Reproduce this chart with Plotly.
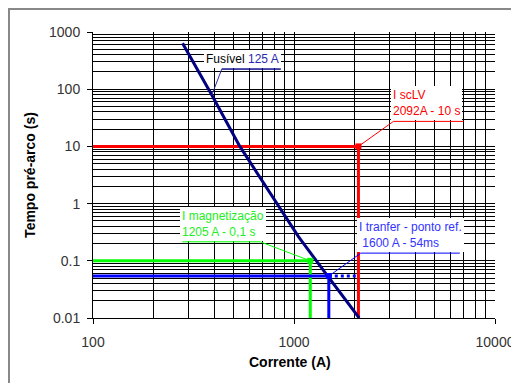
import math
import plotly.graph_objects as go

# ---------------- data ----------------
FUSE_I = [279, 390, 536, 746, 1052, 1484, 2110]          # A
FUSE_T = [634, 79, 10.2, 1.70, 0.264, 0.052, 0.0100]      # s

SC_I, SC_T = 2092, 10          # I scLV
MAG_I, MAG_T = 1205, 0.1       # I magnetização
TR_I, TR_T = 1490, 0.054       # I tranfer (ponto ref.)

X_MIN, X_MAX = 100, 10000
Y_MIN, Y_MAX = 0.01, 1000

X_TICKS = [100, 1000, 10000]
X_TICKTEXT = ["100", "1000", "10000"]
Y_TICKS = [0.01, 0.1, 1, 10, 100, 1000]
Y_TICKTEXT = ["0.01", "0.1", "1", "10", "100", "1000"]

LBL_FUSE = "Fusível"
LBL_FUSE_VAL = "125 A"
LBL_SC = ["I scLV", "2092A - 10 s"]
LBL_MAG = ["I magnetização", "1205 A - 0,1 s"]
LBL_TR = ["I tranfer - ponto ref.", " 1600 A - 54ms"]

X_TITLE = "Corrente (A)"
Y_TITLE = "Tempo pré-arco (s)"

# ---------------- styles ----------------
FONT = "Liberation Sans, Arial, sans-serif"
NAVY = "#000080"
RED = "#ff0000"
GREEN = "#00ff00"
BLUE = "#0000ff"


def minor_vals(lo, hi):
    vals = []
    d = math.floor(math.log10(lo))
    while 10 ** d < hi:
        for k in range(2, 10):
            v = k * 10 ** d
            if lo < v < hi:
                vals.append(v)
        d += 1
    return vals


fig = go.Figure()

# reference lines
fig.add_trace(go.Scatter(x=[X_MIN, SC_I, SC_I], y=[SC_T, SC_T, Y_MIN], mode="lines",
                         line=dict(color=RED, width=3), hoverinfo="skip"))
fig.add_trace(go.Scatter(x=[X_MIN, MAG_I, MAG_I], y=[MAG_T, MAG_T, Y_MIN], mode="lines",
                         line=dict(color=GREEN, width=3), hoverinfo="skip"))
fig.add_trace(go.Scatter(x=[X_MIN, TR_I, TR_I], y=[TR_T, TR_T, Y_MIN], mode="lines",
                         line=dict(color=BLUE, width=3), hoverinfo="skip"))
fig.add_trace(go.Scatter(x=[TR_I, SC_I], y=[TR_T, TR_T], mode="lines",
                         line=dict(color=BLUE, width=3, dash="dot"), hoverinfo="skip"))

# fuse curve
fig.add_trace(go.Scatter(x=FUSE_I, y=FUSE_T, mode="lines",
                         line=dict(color=NAVY, width=3), hoverinfo="skip"))

# markers
fig.add_trace(go.Scatter(x=[SC_I, MAG_I, TR_I], y=[SC_T, MAG_T, TR_T], mode="markers",
                         marker=dict(symbol="square", size=6, color=[RED, GREEN, BLUE],
                                     line=dict(width=0)),
                         hoverinfo="skip"))

# ---------------- callouts ----------------
fx, fy = FUSE_I[1], FUSE_T[1]
callouts = [
    # anchor x, anchor y, leader dx, dy, underline end dx, color
    (fx, fy, 10, 26, 69, "#2a2ab0"),
    (SC_I, SC_T, 35, 25, 105, RED),
    (MAG_I, MAG_T, -50, 19, -128, GREEN),
    (TR_I, TR_T, 32, 23, 131, BLUE),
]
shapes = []
for ax_, ay_, dx, dy, ux, col in callouts:
    shapes.append(dict(type="path", xref="x", yref="y", xsizemode="pixel", ysizemode="pixel",
                       xanchor=ax_, yanchor=ay_,
                       path=f"M0,0 L{dx},{dy} L{ux},{dy}",
                       line=dict(color=col, width=1), layer="above"))
# underline of fuse label in navy
shapes.append(dict(type="path", xref="x", yref="y", xsizemode="pixel", ysizemode="pixel",
                   xanchor=fx, yanchor=fy, path="M10,26 L69,26",
                   line=dict(color=NAVY, width=1), layer="above"))

# outer chart frame
shapes.append(dict(type="rect", xref="paper", yref="paper", x0=-0.209, y0=-0.4, x1=1.2, y1=1.0804,
                   line=dict(color="#888888", width=2), layer="below"))

annotations = []
lg = math.log10
annotations.append(dict(
    x=lg(fx), y=lg(fy), xref="x", yref="y", showarrow=False,
    xanchor="left", yanchor="bottom", xshift=-8, yshift=27,
    text=f"{LBL_FUSE} <span style='color:#2a2ab0'>{LBL_FUSE_VAL}</span>",
    font=dict(family=FONT, size=12, color="#000000"),
    bgcolor="white", borderpad=2, borderwidth=0, align="left"))
annotations.append(dict(
    x=lg(SC_I), y=lg(SC_T), xref="x", yref="y", showarrow=False,
    xanchor="left", yanchor="bottom", xshift=33, yshift=26,
    text="<br>".join(LBL_SC), font=dict(family=FONT, size=12, color=RED),
    bgcolor="white", borderpad=2, borderwidth=0, align="left"))
annotations.append(dict(
    x=lg(MAG_I), y=lg(MAG_T), xref="x", yref="y", showarrow=False,
    xanchor="right", yanchor="bottom", xshift=-44, yshift=20,
    text="<br>".join(LBL_MAG), font=dict(family=FONT, size=12, color="#22ee22"),
    bgcolor="white", borderpad=2, borderwidth=0, align="left"))
annotations.append(dict(
    x=lg(TR_I), y=lg(TR_T), xref="x", yref="y", showarrow=False,
    xanchor="left", yanchor="bottom", xshift=28, yshift=24,
    text="<br>".join(LBL_TR), font=dict(family=FONT, size=12, color="#3333ff"),
    bgcolor="white", borderpad=2, borderwidth=0, align="left"))

# axis titles
annotations.append(dict(x=0.49, y=-0.154, xref="paper", yref="paper", showarrow=False,
                        xanchor="center", yanchor="middle", text=f"<b>{X_TITLE}</b>",
                        font=dict(family=FONT, size=14, color="#000000")))
annotations.append(dict(x=-0.157, y=0.5, xref="paper", yref="paper", showarrow=False,
                        xanchor="center", yanchor="middle", textangle=-90,
                        text=f"<b>{Y_TITLE}</b>",
                        font=dict(family=FONT, size=14, color="#000000")))

axis_common = dict(
    type="log", showgrid=True, gridcolor="#000000", gridwidth=1,
    showline=True, linecolor="#000000", linewidth=1, mirror=False,
    ticks="outside", ticklen=5, tickcolor="#000000", tickwidth=1,
    tickmode="array", zeroline=False, automargin=False, ticklabeloverflow="allow",
    tickfont=dict(family=FONT, size=14, color="#333333"),
)

# page body adds an 8px offset; size the figure so the plot area lands where the reference has it
fig.update_layout(
    width=511, height=375,
    margin=dict(l=85, r=24, t=24, b=65),
    paper_bgcolor="white", plot_bgcolor="white",
    showlegend=False,
    xaxis=dict(**axis_common, range=[lg(X_MIN), lg(X_MAX)],
               tickvals=X_TICKS, ticktext=X_TICKTEXT, ticklabelstandoff=6,
               minor=dict(tickmode="array", tickvals=minor_vals(X_MIN, X_MAX),
                          showgrid=True, gridcolor="#000000", gridwidth=1, ticks="")),
    yaxis=dict(**axis_common, range=[lg(Y_MIN), lg(Y_MAX)],
               tickvals=Y_TICKS, ticktext=Y_TICKTEXT, ticklabelstandoff=4,
               minor=dict(tickmode="array", tickvals=minor_vals(Y_MIN, Y_MAX),
                          showgrid=True, gridcolor="#000000", gridwidth=1, ticks="")),
    shapes=shapes,
    annotations=annotations,
)

fig.write_html("out.html")
